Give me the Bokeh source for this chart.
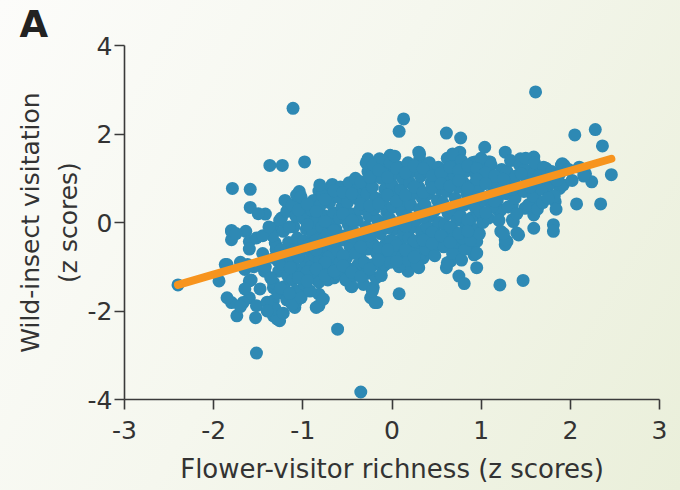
from bokeh.plotting import figure
from bokeh.models import Range1d, FixedTicker, ColumnDataSource
from bokeh.embed import file_html
from bokeh.resources import INLINE

# ---- data ----
x_ticks = [-3, -2, -1, 0, 1, 2, 3]
y_ticks = [-4, -2, 0, 2, 4]

# regression line end points
fit_richness = [-2.40, 2.46]
fit_visitation = [-1.41, 1.44]

# (richness, visitation) pairs
sparse_points = [
    (-1.11, 2.58), (1.61, 2.95), (0.13, 2.34), (0.08, 2.06), (0.61, 2.02), (0.77, 1.91),
    (1.04, 1.70), (2.05, 1.98), (2.28, 2.10), (2.36, 1.73), (2.46, 1.08), (2.24, 0.92),
    (2.07, 0.42), (2.34, 0.42), (1.81, -0.05), (1.81, -0.20), (1.47, -1.31), (1.21, -1.41),
    (1.42, -0.28), (1.36, 0.02), (1.29, -0.43), (1.22, -0.20), (0.95, -1.02), (0.92, -0.73),
    (0.75, -1.21), (0.81, -1.38), (0.61, -1.02), (0.66, -0.87), (0.08, -1.61), (0.30, -1.02),
    (0.18, -1.10), (-0.17, -1.81), (-0.24, -1.70), (-0.61, -2.41), (-0.35, -3.83), (-1.52, -2.95),
    (-1.26, -2.22), (-1.33, -2.11), (-1.53, -2.15), (-1.74, -2.11), (-1.80, -1.81), (-1.94, -1.32),
    (-2.40, -1.41), (-1.87, -0.95), (-1.80, -0.20), (-1.80, -0.39), (-1.64, -0.20), (-1.60, -0.43),
    (-1.52, -0.35), (-1.79, 0.77), (-1.59, 0.75), (-1.59, 0.34), (-1.42, 0.19), (-1.37, 1.29),
    (-1.23, 1.29), (-0.98, 1.37), (-0.82, 0.71), (-1.62, -0.95), (-1.60, -1.32), (-1.60, -1.70),
    (-1.67, -1.81), (-1.52, -1.88), (-1.33, -1.77), (-1.09, -1.92), (-0.82, -1.88), (-0.82, -1.62),
    (-0.99, -1.47), (-1.33, -1.47), (-1.19, -1.62), (-1.43, -1.10), (-1.28, -0.87), (-1.30, -0.61),
    (-1.33, -0.13), (-1.24, 0.10), (-1.16, 0.32), (-1.04, 0.70), (-1.05, 0.47), (-0.94, 0.17),
    (-0.88, -0.20), (-0.90, -0.73), (-0.72, -1.02), (-0.65, -1.25), (-0.55, -1.17), (-0.46, -1.44),
    (-0.65, -0.80), (-0.70, 0.77), (-0.67, 0.86), (-0.55, 0.47), (-0.50, 0.70), (-0.43, 0.88),
    (-0.26, 0.92), (-0.27, 1.44), (-0.14, 1.44), (-0.02, 1.52), (-0.26, 1.14), (-0.11, 1.22),
    (0.30, 1.59), (0.31, 1.44), (0.49, 1.22), (0.66, 1.37), (0.76, 1.59), (0.93, 1.37),
    (1.10, 1.37), (1.27, 1.59), (1.44, 1.44), (1.59, 1.48), (1.66, 1.14), (1.73, 1.22),
    (1.93, 1.29), (1.88, 0.77), (1.83, 0.47), (1.74, 0.77), (1.61, 0.55), (1.49, 0.32),
    (1.35, 0.40), (1.20, 0.25), (1.20, 0.62), (1.59, -0.13), (1.59, 0.17), (0.96, 0.17),
    (0.96, -0.28), (0.91, -0.58), (0.76, -0.58), (0.69, -0.28), (0.62, -0.20), (0.47, -0.13),
    (0.40, -0.58), (0.35, -0.80), (0.23, -0.65), (0.18, -0.28), (0.06, -0.43), (-0.02, -0.80),
    (-0.11, -1.02), (-0.21, -1.47), (-0.31, -1.02), (-0.36, -0.73), (-0.21, -0.50),
    (-1.85, -0.95), (-1.80, -0.18), (-1.31, -0.46), (-1.65, -1.06), (-1.08, -1.81), (-0.85, -1.92),
    (-1.29, -2.18), (-0.77, -1.73), (-0.19, -1.81), (-0.45, -1.45), (0.37, -0.72), (1.27, -0.50),
    (0.95, -0.43), (0.95, -0.69), (1.91, 1.33), (2.17, 1.10), (1.08, 1.37), (1.40, -0.24),
    (1.27, -0.39), (0.62, -0.91), (1.22, 0.28), (1.35, 0.06),
]

left_core = [
    (-1.31, -1.95), (-1.28, -1.60), (-1.33, -1.35), (-1.27, -1.10), (-1.32, -0.80), (-1.29, -0.55),
    (-1.34, -0.30), (-1.26, 0.05), (-1.22, -2.05), (-1.18, -1.75), (-1.21, -1.45), (-1.17, -1.20),
    (-1.23, -0.95), (-1.19, -0.70), (-1.16, -0.45), (-1.22, -0.20), (-1.18, 0.25), (-1.20, 0.50),
    (-1.12, -1.85), (-1.08, -1.55), (-1.11, -1.30), (-1.07, -1.05), (-1.13, -0.85), (-1.09, -0.60),
    (-1.06, -0.35), (-1.10, -0.10), (-1.08, 0.15), (-1.12, 0.40), (-1.07, 0.62), (-1.02, -1.70),
    (-0.98, -1.40), (-1.01, -1.15), (-0.97, -0.90), (-1.03, -0.68), (-0.99, -0.42), (-0.96, -0.15),
    (-1.00, 0.10), (-0.98, 0.35), (-1.02, 0.58), (-0.92, -1.55), (-0.88, -1.25), (-0.91, -1.00),
    (-0.87, -0.75), (-0.93, -0.50), (-0.89, -0.25), (-0.86, 0.00), (-0.90, 0.28), (-0.88, 0.50),
    (-0.82, -1.35), (-0.78, -1.10), (-0.81, -0.85), (-0.77, -0.60), (-0.83, -0.35), (-0.79, -0.10),
    (-0.76, 0.15), (-0.80, 0.40), (-0.78, 0.62), (-0.81, 0.85), (-0.72, -1.30), (-0.68, -1.05),
    (-0.71, -0.78), (-0.67, -0.52), (-0.73, -0.28), (-0.69, -0.02), (-0.66, 0.22), (-0.70, 0.45),
    (-0.68, 0.60), (-0.62, -1.15), (-0.58, -0.90), (-0.61, -0.65), (-0.57, -0.40), (-0.63, -0.15),
    (-0.59, 0.10), (-0.56, 0.35), (-0.60, 0.58), (-0.58, 0.80), (-0.52, -1.30), (-0.48, -1.05),
    (-0.51, -0.80), (-0.47, -0.55), (-0.53, -0.30), (-0.49, -0.05), (-0.46, 0.20), (-0.50, 0.45),
    (-0.48, 0.90), (-1.45, -0.70), (-1.42, -1.00), (-1.48, -1.50), (-1.40, -1.80), (-1.45, -0.30),
    (-1.50, 0.20), (-1.55, -1.00), (-1.58, -1.30), (-1.65, -1.50), (-1.70, -1.90), (-1.60, -0.60),
    (-1.70, -0.90), (-1.75, -0.25), (-1.85, -1.70), (-1.38, -0.10), (-1.40, -2.00), (-1.36, -1.25),
]

mid_core = [
    (-0.42, -1.20), (-0.38, -0.95), (-0.41, -0.70), (-0.37, -0.45), (-0.43, -0.20), (-0.39, 0.05),
    (-0.36, 0.30), (-0.40, 0.55), (-0.38, 0.78), (-0.41, 1.00), (-0.32, -1.40), (-0.28, -1.15),
    (-0.31, -0.90), (-0.27, -0.60), (-0.33, -0.35), (-0.29, -0.10), (-0.26, 0.15), (-0.30, 0.40),
    (-0.28, 0.65), (-0.31, 0.88), (-0.27, 1.15), (-0.29, 1.35), (-0.22, -1.55), (-0.18, -1.25),
    (-0.21, -0.95), (-0.17, -0.70), (-0.23, -0.45), (-0.19, -0.20), (-0.16, 0.05), (-0.20, 0.30),
    (-0.18, 0.55), (-0.22, 0.80), (-0.17, 1.05), (-0.21, 1.30), (-0.12, -1.20), (-0.08, -0.95),
    (-0.11, -0.70), (-0.07, -0.48), (-0.13, -0.25), (-0.09, 0.00), (-0.06, 0.25), (-0.10, 0.50),
    (-0.08, 0.75), (-0.12, 1.00), (-0.07, 1.25), (-0.10, 1.40), (-0.02, -0.90), (0.02, -0.65),
    (-0.01, -0.40), (0.03, -0.15), (-0.03, 0.10), (0.01, 0.35), (0.04, 0.60), (0.00, 0.85),
    (0.02, 1.10), (-0.02, 1.35), (0.03, 1.50), (0.08, -1.00), (0.12, -0.75), (0.09, -0.50),
    (0.13, -0.25), (0.07, 0.00), (0.11, 0.25), (0.14, 0.50), (0.10, 0.75), (0.12, 1.00),
    (0.08, 1.25), (0.18, -0.85), (0.22, -0.60), (0.19, -0.35), (0.23, -0.10), (0.17, 0.15),
    (0.21, 0.40), (0.24, 0.65), (0.20, 0.90), (0.22, 1.15), (0.18, 1.35), (0.28, -0.95),
    (0.32, -0.70), (0.29, -0.45), (0.33, -0.20), (0.27, 0.05), (0.31, 0.30), (0.34, 0.55),
    (0.30, 0.80), (0.32, 1.05), (0.28, 1.30), (0.31, 1.55), (0.38, -0.60), (0.42, -0.35),
    (0.39, -0.10), (0.43, 0.15), (0.37, 0.40), (0.41, 0.65), (0.44, 0.90), (0.40, 1.15),
    (0.42, 1.35),
]

right_core = [
    (0.48, -0.75), (0.52, -0.50), (0.49, -0.25), (0.53, 0.00), (0.47, 0.25), (0.51, 0.50),
    (0.54, 0.75), (0.50, 1.00), (0.52, 1.25), (0.58, -0.55), (0.62, -0.30), (0.59, -0.05),
    (0.63, 0.20), (0.57, 0.45), (0.61, 0.70), (0.64, 0.95), (0.60, 1.20), (0.62, 1.45),
    (0.68, -0.70), (0.72, -0.45), (0.69, -0.20), (0.73, 0.05), (0.67, 0.30), (0.71, 0.55),
    (0.74, 0.80), (0.70, 1.05), (0.72, 1.30), (0.68, 1.55), (0.78, -0.85), (0.82, -0.60),
    (0.79, -0.35), (0.83, -0.10), (0.77, 0.15), (0.81, 0.40), (0.84, 0.65), (0.80, 0.90),
    (0.82, 1.15), (0.78, 1.40), (0.88, -0.40), (0.92, -0.15), (0.89, 0.10), (0.93, 0.35),
    (0.87, 0.60), (0.91, 0.85), (0.94, 1.10), (0.90, 1.35), (0.98, -0.25), (1.02, 0.00),
    (0.99, 0.25), (1.03, 0.50), (0.97, 0.75), (1.01, 1.00), (1.04, 1.25), (1.00, 1.45),
    (1.08, 0.10), (1.12, 0.35), (1.09, 0.60), (1.13, 0.85), (1.07, 1.10), (1.11, 1.30),
    (1.18, 0.50), (1.22, 0.75), (1.19, 1.00), (1.23, 1.20), (1.20, 0.05), (1.25, -0.25),
    (1.28, 0.65), (1.32, 0.90), (1.29, 1.15), (1.33, 1.40), (1.30, 0.35), (1.38, 0.55),
    (1.42, 0.80), (1.39, 1.05), (1.43, 1.30), (1.40, 0.20), (1.48, 0.70), (1.52, 0.95),
    (1.49, 1.20), (1.53, 0.40), (1.50, 1.45), (1.58, 0.60), (1.62, 0.85), (1.59, 1.10),
    (1.63, 0.30), (1.60, 1.35), (1.68, 0.75), (1.72, 1.00), (1.69, 0.45), (1.70, 1.25),
    (1.78, 0.90), (1.82, 0.60), (1.79, 1.15), (1.84, 0.30), (1.88, 1.10), (1.92, 0.85),
    (1.90, 1.30), (1.98, 1.20), (2.02, 0.95), (2.10, 1.25), (2.15, 1.05),
]

fill_core = [
    (-1.25, -1.48), (-1.14, -1.02), (-1.05, -0.78), (-0.95, -1.12), (-0.85, -0.62), (-0.75, -0.90),
    (-0.65, -0.42), (-0.55, -0.75), (-0.45, -0.32), (-0.35, -0.55), (-0.25, -0.30), (-0.15, -0.58),
    (-0.05, -0.12), (0.05, -0.52), (0.15, -0.08), (0.25, -0.42), (0.35, 0.12), (0.45, -0.22),
    (0.55, 0.35), (0.65, -0.10), (0.75, 0.42), (0.85, 0.05), (0.95, 0.55), (1.05, 0.22),
    (1.15, 0.70), (-1.25, -0.62), (-1.15, -0.10), (-1.05, 0.28), (-0.95, 0.42), (-0.85, 0.25),
    (-0.75, 0.52), (-0.65, 0.72), (-0.55, 0.68), (-0.45, 0.65), (-0.35, 0.92), (-0.25, 1.02),
    (-0.15, 1.18), (-0.05, 1.02), (0.05, 1.22), (0.15, 1.12), (0.25, 1.28), (0.35, 1.22),
    (0.45, 1.05), (0.55, 1.12), (0.65, 1.25), (0.75, 1.18), (0.85, 1.28), (0.95, 1.22),
    (1.05, 1.12), (1.15, 1.05), (-1.15, -1.60), (-1.05, -1.25), (-0.95, -1.32), (-0.85, -1.05),
    (-0.75, -1.20), (-0.65, -1.10), (-0.55, -0.98), (-0.45, -1.12), (-0.35, -1.22), (-0.25, -1.05),
    (-0.15, -0.85), (-0.05, -0.62), (0.05, -0.88), (0.15, -0.62), (0.25, -0.78), (0.35, -0.40),
    (0.45, -0.48), (0.55, -0.30), (0.65, -0.45), (0.75, -0.25), (0.85, -0.20), (-0.95, -0.05),
    (-0.85, -0.40), (-0.75, 0.02), (-0.65, -0.18), (-0.55, 0.20), (-0.45, 0.05), (-0.35, 0.42),
    (-0.25, 0.38), (-0.15, 0.42), (-0.05, 0.62), (0.05, 0.48), (0.15, 0.62), (0.25, 0.80),
    (0.35, 0.68), (0.45, 0.78), (0.55, 0.88), (0.65, 0.82), (0.75, 0.95), (0.85, 0.78),
    (0.95, 0.98), (1.05, 0.88), (1.15, 0.48), (1.25, 0.98), (1.35, 0.75), (1.45, 1.10),
    (1.55, 0.80), (1.65, 1.05), (1.75, 0.55), (1.85, 0.95),
]

all_points = sparse_points + left_core + mid_core + right_core + fill_core
richness = [pt[0] for pt in all_points]
visitation = [pt[1] for pt in all_points]

x_label = "Flower-visitor richness (z scores)"
y_label = "Wild-insect visitation\n(z scores)"
panel_letter = "A"
tick_text = {-4: "-4", -3: "-3", -2: "-2", -1: "-1"}

# ---- styling ----
FONT = "DejaVu Sans"
TEXT = "#333333"
AXIS = "#3a3a3a"
BLUE = "#2E89B4"
ORANGE = "#F7941E"

p = figure(width=680, height=490,
           x_range=Range1d(-3, 3), y_range=Range1d(-4, 4),
           output_backend="svg", toolbar_location=None,
           min_border_left=124, min_border_right=21,
           min_border_top=43, min_border_bottom=91)

p.background_fill_alpha = 0
p.border_fill_alpha = 0
p.styles = {"background": "linear-gradient(120deg, #fcfcfa 0%, #f5f7ee 45%, #eaefda 100%)"}
p.outline_line_color = None
p.grid.visible = False

p.title.text = panel_letter
p.title.text_font = FONT
p.title.text_font_size = "37px"
p.title.text_font_style = "bold"
p.title.text_color = "#222222"
p.title.align = "left"
p.title.offset = -105
p.title.standoff = 0

for ax in (p.xaxis, p.yaxis):
    ax.axis_line_color = AXIS
    ax.axis_line_width = 1.6
    ax.major_tick_line_color = AXIS
    ax.major_tick_line_width = 1.6
    ax.major_tick_in = 0
    ax.major_tick_out = 10
    ax.minor_tick_line_color = None
    ax.major_label_text_font = FONT
    ax.major_label_text_font_size = "25px"
    ax.major_label_text_color = TEXT
    ax.major_label_overrides = tick_text

p.xaxis.ticker = FixedTicker(ticks=x_ticks)
p.yaxis.ticker = FixedTicker(ticks=y_ticks)
p.xaxis.major_label_standoff = 11
p.yaxis.major_label_standoff = 2

p.xaxis.axis_label = x_label
p.xaxis.axis_label_text_font = FONT
p.xaxis.axis_label_text_font_size = "26px"
p.xaxis.axis_label_text_font_style = "normal"
p.xaxis.axis_label_text_color = TEXT
p.xaxis.axis_label_standoff = 12

p.yaxis.axis_label = y_label
p.yaxis.axis_label_text_font = FONT
p.yaxis.axis_label_text_font_size = "25px"
p.yaxis.axis_label_text_font_style = "normal"
p.yaxis.axis_label_text_color = TEXT
p.yaxis.axis_label_text_line_height = 1.3
p.yaxis.axis_label_standoff = 2

src = ColumnDataSource(dict(x=richness, y=visitation))
p.scatter("x", "y", source=src, size=13, fill_color=BLUE, line_color=None)

p.line(fit_richness, fit_visitation, line_color=ORANGE, line_width=8, line_cap="round")

open("out.html", "w").write(file_html(p, INLINE))
